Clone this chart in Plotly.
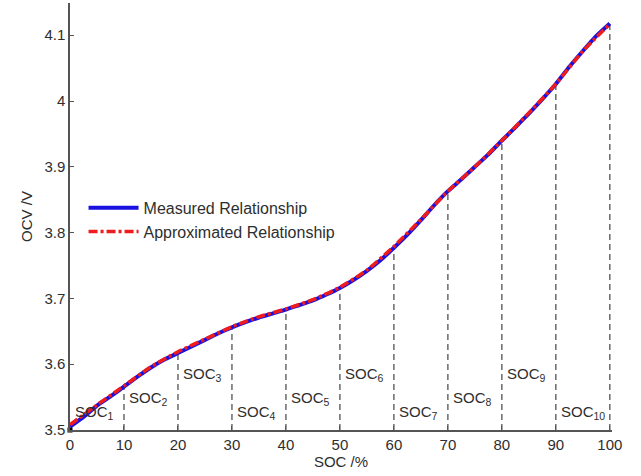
import plotly.graph_objects as go

# State of charge (%) and open-circuit voltage (V)
soc_measured = [0, 2.5, 5, 7.5, 10, 12.5, 15, 17.5, 20, 22.5, 25, 27.5, 30, 32.5, 35,
                37.5, 40, 42.5, 45, 47.5, 50, 52.5, 55, 57.5, 60, 62.5, 65, 67.5, 70,
                72.5, 75, 77.5, 80, 82.5, 85, 87.5, 90, 92.5, 95, 97.5, 100]
ocv_measured = [3.505, 3.520, 3.537, 3.551, 3.566, 3.581, 3.595, 3.607, 3.617, 3.627,
                3.637, 3.647, 3.656, 3.664, 3.671, 3.677, 3.683, 3.690, 3.697, 3.706,
                3.716, 3.728, 3.742, 3.758, 3.777, 3.797, 3.819, 3.842, 3.863, 3.881,
                3.900, 3.919, 3.940, 3.960, 3.981, 4.003, 4.026, 4.052, 4.076, 4.099,
                4.118]

soc_approx = [0, 5, 10, 15, 20, 25, 30, 35, 40, 45, 50, 55, 60, 65, 70, 75, 80, 85, 90, 95, 100]
ocv_approx = [3.508, 3.538, 3.567, 3.596, 3.619, 3.638, 3.657, 3.672, 3.684, 3.698, 3.717,
              3.743, 3.779, 3.820, 3.863, 3.900, 3.940, 3.982, 4.026, 4.076, 4.117]

# Segment boundaries and their labels
seg_bounds = [10, 20, 30, 40, 50, 60, 70, 80, 90, 100]
seg_ocv = [3.566, 3.617, 3.656, 3.683, 3.716, 3.777, 3.863, 3.940, 4.026, 4.118]
seg_labels = ["SOC<sub>%d</sub>" % i for i in range(1, 11)]
label_levels = [3.527, 3.548, 3.585, 3.527, 3.548, 3.585, 3.527, 3.548, 3.585, 3.527]

# Starting point marker
start_soc = [0]
start_ocv = [3.5]

x_ticks = [0, 10, 20, 30, 40, 50, 60, 70, 80, 90, 100]
y_ticks = [3.5, 3.6, 3.7, 3.8, 3.9, 4.0, 4.1]
y_tick_text = ["3.5", "3.6", "3.7", "3.8", "3.9", "4", "4.1"]

FONT = "Liberation Sans, Arial, sans-serif"
TEXT = "#2e2e2e"
AXIS = "#555555"

fig = go.Figure()

# Vertical dashed dividers from the axis up to the curve
vx, vy = [], []
for b, v in zip(seg_bounds, seg_ocv):
    vx += [b, b, None]
    vy += [3.5, v, None]
fig.add_trace(go.Scatter(x=vx, y=vy, mode="lines", showlegend=False,
                         line=dict(color="#444444", width=1.2, dash="6px,4px"),
                         hoverinfo="skip"))

fig.add_trace(go.Scatter(x=soc_measured, y=ocv_measured, mode="lines",
                         name="Measured Relationship",
                         line=dict(color="#1a10e0", width=4, shape="spline", smoothing=0.4)))
fig.add_trace(go.Scatter(x=soc_approx, y=ocv_approx, mode="lines",
                         name="Approximated Relationship",
                         line=dict(color="#ee1c1c", width=3.5, dash="9px,3px,3px,3px",
                                   shape="spline", smoothing=0.6)))
fig.add_trace(go.Scatter(x=start_soc, y=start_ocv, mode="markers", showlegend=False,
                         marker=dict(color="black", size=5, symbol="square"),
                         cliponaxis=False, hoverinfo="skip"))

for b, lvl, lab in zip(seg_bounds, label_levels, seg_labels):
    fig.add_annotation(x=b - 10 + 0.6, y=lvl, text=lab, showarrow=False,
                       xanchor="left", yanchor="middle",
                       font=dict(family=FONT, size=15, color=TEXT))

fig.update_layout(
    width=641, height=476,
    margin=dict(l=70, r=29, t=3, b=46),
    plot_bgcolor="white", paper_bgcolor="white",
    font=dict(family=FONT, size=15, color=TEXT),
    legend=dict(x=0.025, y=0.56, xanchor="left", yanchor="top",
                bgcolor="rgba(255,255,255,0)", font=dict(size=16, color=TEXT),
                tracegroupgap=0, itemwidth=50),
    xaxis=dict(range=[0, 100.4], tickvals=x_ticks, showgrid=False, zeroline=False,
               showline=True, linecolor=AXIS, linewidth=1.5,
               ticks="inside", ticklen=4, tickcolor=AXIS,
               tickfont=dict(size=15),
               title=dict(text="SOC /%", standoff=0, font=dict(size=15))),
    yaxis=dict(range=[3.5, 4.149], tickvals=y_ticks, ticktext=y_tick_text,
               showgrid=False, zeroline=False,
               showline=True, linecolor=AXIS, linewidth=1.5,
               ticks="inside", ticklen=4, tickcolor=AXIS,
               tickfont=dict(size=15),
               title=dict(text="OCV /V", standoff=8, font=dict(size=15))),
)

fig.write_html("out.html")
